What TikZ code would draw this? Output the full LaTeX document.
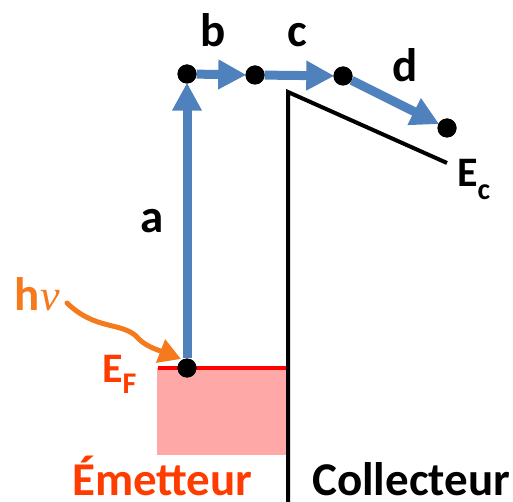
\documentclass[tikz,border=0pt]{standalone}
\usepackage{fontspec}
\setmainfont{Carlito}
\newfontfamily\grkfont{Liberation Serif}
\usetikzlibrary{arrows.meta}
\definecolor{bleu}{HTML}{4F81BD}
\definecolor{orangeph}{HTML}{F57A1E}
\definecolor{rougeor}{HTML}{FF3C00}
\definecolor{rose}{HTML}{FFA8A8}
\begin{document}
\begin{tikzpicture}[x=1pt,y=-1pt,
  dot/.style={circle,fill=black,inner sep=0pt,minimum size=19pt},
  barr/.style={draw=bleu,line width=9pt,-{Triangle[length=28pt,width=28pt]},shorten >=-1pt},
  lbl/.style={inner sep=0pt,anchor=base west,font=\fontsize{47}{50}\selectfont\bfseries},
  elbl/.style={inner sep=0pt,anchor=base west,font=\fontsize{42}{46}\selectfont\bfseries},
  band/.style={line width=4pt}]
\useasboundingbox (0,0) rectangle (513,502);
% emitter
\fill[rose] (157,368) rectangle (287,455);
\draw[red,band] (158,368) -- (288,368);
% barrier / conduction band
\draw[black,band,line join=miter] (288,504) -- (288,92) -- (447,163);
% dots
\node[dot] (d0) at (187,368) {};
\node[dot] (d1) at (187,74) {};
\node[dot] (d2) at (255,75) {};
\node[dot] (d3) at (343,76) {};
\node[dot] (d4) at (447,128) {};
% arrows
\draw[barr] (d0) -- (d1);
\draw[barr] (d1) -- (d2);
\draw[barr] (d2) -- (d3);
\draw[barr] (d3) -- (d4);
\node[dot] at (d0) {};
\node[dot] at (d1) {};
\node[dot] at (d2) {};
\node[dot] at (d3) {};
\node[dot] at (d4) {};
% photon
\coordinate (ph0) at (67,303);
\coordinate (ph1) at (181,359);
\draw[orangeph,line width=5pt,-{Triangle[length=22pt,width=24pt]},line cap=round]
  (ph0) .. controls (95,330) and (120,322) .. (136,336)
  .. controls (144,346) and (158,350) .. (ph1);
% labels
\node[lbl] (la) at (140,233) {a};
\node[lbl] (lb) at (200,47) {b};
\node[lbl] (lc) at (287,47) {c};
\node[lbl] (ld) at (392,82) {d};
\node[lbl,text=orangeph] (lhv) at (14,310) {h\kern1pt{\grkfont\mdseries\itshape\fontsize{44}{46}\selectfont ν}};
\node[elbl,text=rougeor] (lef) at (102,382) {E\raisebox{-11pt}{\fontsize{30}{32}\selectfont F}};
\node[elbl] (lec) at (457,187) {E\raisebox{-13pt}{\fontsize{30}{32}\selectfont c}};
\node[lbl,text=rougeor] (lem) at (72,495) {Émetteur};
\node[lbl] (lco) at (312,495) {Collecteur};
\end{tikzpicture}
\end{document}
